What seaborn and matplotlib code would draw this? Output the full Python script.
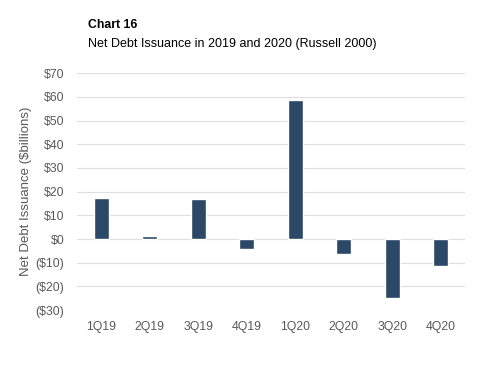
import matplotlib
matplotlib.use('Agg')
import matplotlib.pyplot as plt
import pandas as pd
import seaborn as sns

# ----------------- data -----------------
quarters = ['1Q19', '2Q19', '3Q19', '4Q19', '1Q20', '2Q20', '3Q20', '4Q20']
net_debt = [17.3, 1.4, 16.9, -4.1, 58.6, -6.3, -25.0, -11.4]
y_ticks = [-30, -20, -10, 0, 10, 20, 30, 40, 50, 60, 70]

bar_color = '#2c4867'
text_gray = '#595959'


# format dollar ticks, negatives in brackets
def dollar(v):
    v = int(v)
    return '$%d' % v if v >= 0 else '($%d)' % abs(v)


df = pd.DataFrame({'quarter': quarters, 'value': net_debt})

sns.set_style('white')
plt.rcParams['font.family'] = ['Liberation Sans', 'DejaVu Sans']

fig = plt.figure(figsize=(5, 3.71), dpi=100)
ax = fig.add_axes([0.154, 0.164, 0.776, 0.639])

sns.barplot(data=df, x='quarter', y='value', color=bar_color, width=0.31,
            saturation=1, ax=ax, zorder=3)

ax.set_ylim(-30, 70)
ax.set_xlim(-0.5, 7.5)
ax.set_yticks(y_ticks)
ax.set_yticklabels([dollar(v) for v in y_ticks])
ax.yaxis.grid(True, color='#dedede', linewidth=0.8, zorder=0)
ax.set_axisbelow(True)
for s in ax.spines.values():
    s.set_visible(False)
ax.tick_params(axis='both', length=0, labelsize=8.8, colors=text_gray)
ax.tick_params(axis='y', pad=9)
ax.tick_params(axis='x', pad=8)
ax.set_xlabel('')
ax.set_ylabel('Net Debt Issuance ($billions)', fontsize=9.5, color=text_gray, labelpad=3)

fig.text(0.176, 0.925, 'Chart 16', fontsize=8.8, fontweight='bold', color='black')
fig.text(0.176, 0.872, 'Net Debt Issuance in 2019 and 2020 (Russell 2000)', fontsize=9, color='black')

fig.savefig('out.png', dpi=100, facecolor='white')
